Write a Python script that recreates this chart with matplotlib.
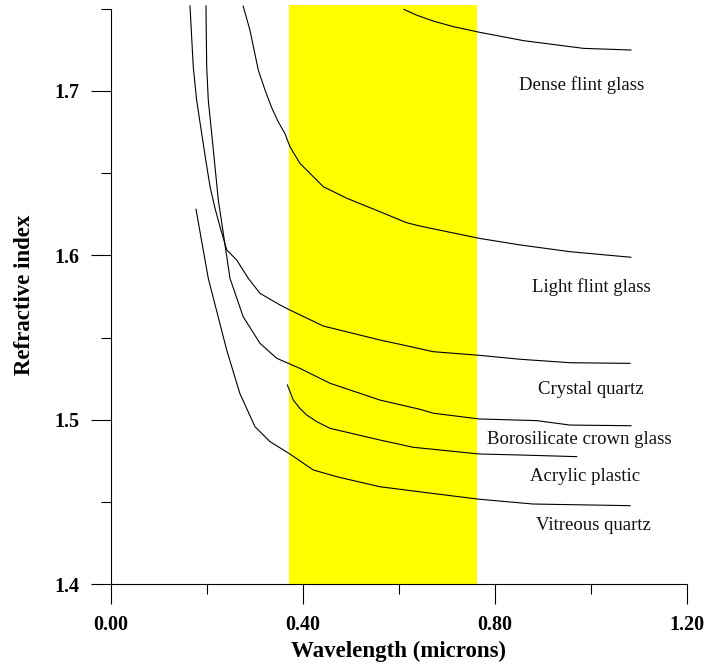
import matplotlib
matplotlib.use("Agg")
import matplotlib.pyplot as plt
from matplotlib.ticker import MultipleLocator

# refractive index vs wavelength
dense_x = [0.611, 0.6375, 0.672, 0.714, 0.768, 0.860, 0.985, 1.084]
dense_y = [1.7495, 1.746, 1.7424, 1.739, 1.7356, 1.7305, 1.7258, 1.7248]

light_x = [0.276, 0.290, 0.3075, 0.3215, 0.335, 0.349, 0.363, 0.3735, 0.394, 0.443,
           0.4917, 0.561, 0.6167, 0.644, 0.768, 0.853, 0.957, 1.084]
light_y = [1.7515, 1.737, 1.7126, 1.7005, 1.690, 1.6812, 1.674, 1.666, 1.656, 1.6417,
           1.6347, 1.6265, 1.6198, 1.6178, 1.6103, 1.6063, 1.6022, 1.5988]

crystal_x = [0.1652, 0.172, 0.179, 0.1896, 0.198, 0.207, 0.2173, 0.2277, 0.2417, 0.2625,
             0.2867, 0.311, 0.3527, 0.3735, 0.443, 0.561, 0.6167, 0.672, 0.768, 0.853,
             0.957, 1.082]
crystal_y = [1.7516, 1.7147, 1.6944, 1.674, 1.658, 1.6417, 1.6286, 1.6174, 1.6033, 1.5971,
             1.586, 1.5769, 1.5698, 1.5667, 1.557, 1.5485, 1.545, 1.5414, 1.5392, 1.5368,
             1.5347, 1.5343]

boro_x = [0.1985, 0.200, 0.2033, 0.2104, 0.2173, 0.2242, 0.2346, 0.2485, 0.276, 0.311,
          0.3458, 0.394, 0.457, 0.561, 0.644, 0.672, 0.768, 0.8875, 0.957, 1.084]
boro_y = [1.7516, 1.7147, 1.6944, 1.674, 1.6539, 1.6336, 1.6134, 1.586, 1.5627, 1.5465,
          1.5374, 1.5313, 1.5222, 1.512, 1.5064, 1.504, 1.5005, 1.4995, 1.4968, 1.4964]

acrylic_x = [0.368, 0.3804, 0.394, 0.408, 0.429, 0.457, 0.561, 0.630, 0.768, 0.853, 0.971]
acrylic_y = [1.5212, 1.512, 1.507, 1.503, 1.4989, 1.4948, 1.4877, 1.4833, 1.4792, 1.4786,
             1.4776]

vitreous_x = [0.1777, 0.2033, 0.2417, 0.269, 0.3006, 0.332, 0.3735, 0.422, 0.471,
              0.561, 0.658, 0.768, 0.880, 1.082]
vitreous_y = [1.628, 1.586, 1.5424, 1.5161, 1.4958, 1.4867, 1.4792, 1.4695, 1.4654,
              1.4593, 1.4557, 1.4517, 1.4488, 1.4478]

names = ["Dense flint glass", "Light flint glass", "Crystal quartz",
         "Borosilicate crown glass", "Acrylic plastic", "Vitreous quartz"]
name_x = [0.981, 1.0006, 1.0006, 0.977, 0.988, 1.005]
name_y = [1.7035, 1.5807, 1.5187, 1.4883, 1.4654, 1.436]

visible = (0.372, 0.763)

plt.rcParams['font.family'] = ['Liberation Serif', 'DejaVu Serif']

fig = plt.figure(figsize=(7.06, 6.67), dpi=100)
ax = fig.add_axes([0.1568, 0.124, 0.8158, 0.8681])

ax.axvspan(visible[0], visible[1], color='#ffff00', lw=0, zorder=0)

for xs, ys in [(dense_x, dense_y), (light_x, light_y), (crystal_x, crystal_y),
               (boro_x, boro_y), (acrylic_x, acrylic_y), (vitreous_x, vitreous_y)]:
    ax.plot(xs, ys, color='k', lw=0.8, zorder=2)

for n, x, y in zip(names, name_x, name_y):
    ax.text(x, y, n, ha='center', va='center', fontsize=13.5, color='#111111')

ax.set_xlim(0, 1.2)
ax.set_ylim(1.4, 1.752)
ax.spines['top'].set_visible(False)
ax.spines['right'].set_visible(False)
ax.spines['left'].set_bounds(1.4, 1.75)
ax.spines['left'].set_linewidth(0.8)
ax.spines['bottom'].set_linewidth(0.8)

ax.set_xticks([0.0, 0.4, 0.8, 1.2])
ax.set_xticklabels(["0.00", "0.40", "0.80", "1.20"])
ax.xaxis.set_minor_locator(MultipleLocator(0.2))
ax.set_yticks([1.4, 1.5, 1.6, 1.7])
ax.set_yticklabels(["1.4", "1.5", "1.6", "1.7"])
ax.yaxis.set_minor_locator(MultipleLocator(0.05))

ax.tick_params(which='major', direction='out', length=14.4, width=0.8,
               labelsize=14.5, pad=8)
ax.tick_params(which='minor', direction='out', length=7.2, width=0.8)
for lab in ax.get_xticklabels() + ax.get_yticklabels():
    lab.set_fontweight('bold')

ax.set_xlabel("Wavelength (microns)", fontsize=16.5, fontweight='bold', labelpad=4)
ax.set_ylabel("Refractive index", fontsize=16.5, fontweight='bold', labelpad=14)

fig.savefig("out.png", dpi=100)
